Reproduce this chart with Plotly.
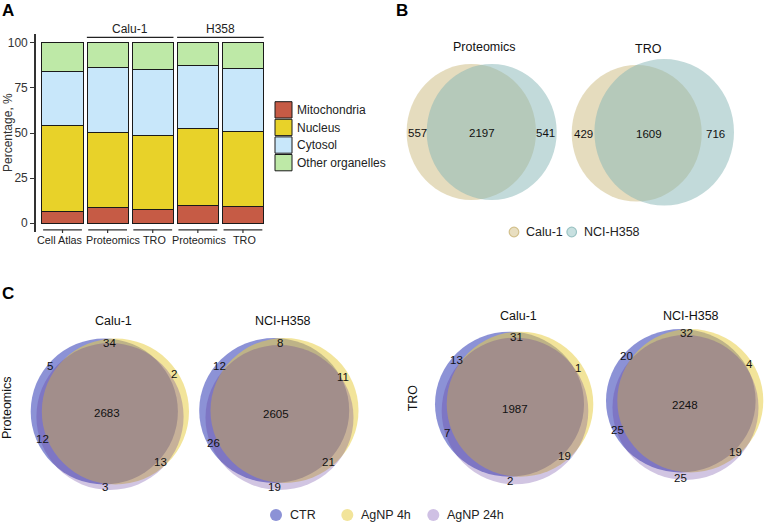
import plotly.graph_objects as go

W, H = 765, 525
FONT = "Liberation Sans, Arial, sans-serif"


def px(x):
    return x / W


def py(y):
    return 1 - y / H


# ---------------- DATA ----------------
# Panel A: stacked percentages (segment heights, %)
columns = ["Cell Atlas", "Calu-1 Proteomics", "Calu-1 TRO", "H358 Proteomics", "H358 TRO"]
column_labels = ["Cell Atlas", "Proteomics", "TRO", "Proteomics", "TRO"]
mitochondria = [6.8, 8.5, 7.9, 9.8, 9.2]
nucleus = [47.2, 41.9, 40.6, 42.8, 41.5]
cytosol = [29.8, 36.1, 36.9, 34.7, 35.3]
other_organelles = [16.2, 13.5, 14.6, 12.7, 14.0]
compartments = ["Mitochondria", "Nucleus", "Cytosol", "Other organelles"]
group_names = ["Calu-1", "H358"]
group_members = [[1, 2], [3, 4]]

# Panel B: two-set Venn counts [Calu-1 only, both, NCI-H358 only]
venn2_titles = ["Proteomics", "TRO"]
venn2_sets = ["Calu-1", "NCI-H358"]
venn2_proteomics = [557, 2197, 541]
venn2_tro = [429, 1609, 716]

# Panel C: three-set Venn counts
# order: [CTR only, 4h only, 24h only, CTR&4h, CTR&24h, 4h&24h, all]
venn3_sets = ["CTR", "AgNP 4h", "AgNP 24h"]
venn3_cells = ["Calu-1", "NCI-H358"]
venn3_methods = ["Proteomics", "TRO"]
venn3_prot_calu1 = [5, 2, 3, 34, 12, 13, 2683]
venn3_prot_h358 = [12, 11, 19, 8, 26, 21, 2605]
venn3_tro_calu1 = [13, 1, 2, 31, 7, 19, 1987]
venn3_tro_h358 = [20, 4, 25, 32, 25, 19, 2248]

# ---------------- STYLE / LAYOUT ----------------
bar_colors = ["#C65B45", "#E8D229", "#C8E7FA", "#BEE9A7"]
venn2_fill = ["rgba(203,185,125,0.5)", "rgba(133,181,181,0.5)"]
venn2_key = [("#E8DEC0", "#D2C08C"), ("#C8E0E0", "#9CC4C4")]
venn3_fill = ["rgba(25,37,173,0.5)", "rgba(231,206,71,0.55)", "rgba(90,45,150,0.28)"]
venn3_key = ["#8C92D6", "#F2E49A", "#CFC0E4"]

# x-label centres (px) for panel A column labels
xlabel_px = [60, 113, 154.5, 199.7, 245]

# Venn geometry (pixel space): (cx, cy, rx, ry)
venn2_geom = [
    [(471.3, 132.0, 64.7, 68.0), (491.7, 132.0, 65.0, 68.0)],
    [(636.7, 133.3, 65.0, 68.3), (664.2, 132.3, 69.8, 73.3)],
]
venn2_label_pos = [
    [(417.7, 133), (482, 133), (545, 133)],
    [(583.3, 134), (648.7, 134), (715, 134)],
]
venn2_title_pos = [(484, 47), (648, 49)]

venn3_geom = [
    [(104.3, 411.5, 73.6, 73.0), (115.4, 411.5, 73.6, 73.0), (110.0, 416.5, 73.6, 73.5)],
    [(274.2, 410.5, 75.0, 72.5), (284.5, 410.5, 74.0, 72.5), (279.5, 417.5, 74.0, 72.5)],
    [(509.5, 404.2, 74.5, 72.5), (520.0, 404.2, 73.3, 72.5), (515.0, 411.0, 73.3, 73.3)],
    [(680.8, 400.7, 74.8, 71.7), (690.3, 400.7, 73.0, 71.7), (685.5, 407.5, 73.0, 72.5)],
]
venn3_label_pos = [
    [(50, 366), (174, 374.3), (105, 487.3), (110, 342.7), (42.3, 439.3), (160, 461.7), (106.7, 412.7)],
    [(220, 366), (342.7, 376.7), (274.3, 487.3), (280, 342.7), (213.3, 443.3), (328.3, 461.7), (276, 414)],
    [(456, 360), (578.3, 368.3), (510, 481), (516, 337.3), (446.7, 433.3), (564, 456), (515, 409.3)],
    [(626, 356), (749.3, 364), (680, 477.7), (686.7, 332.7), (617.3, 430), (735.7, 451.7), (685, 405)],
]
venn3_title_pos = [(113, 320.7), (282.7, 320.7), (518.3, 315.7), (690.7, 315.7)]
venn3_row_pos = [(7, 408), (413.3, 398)]

shapes = []
annotations = []


def text(x, y, s, size=12, color="#111", xanchor="center", yanchor="middle", **kw):
    annotations.append(dict(x=px(x), y=py(y), xref="paper", yref="paper", text=s,
                            xanchor=xanchor, yanchor=yanchor,
                            showarrow=False, font=dict(family=FONT, size=size, color=color), **kw))


def ellipse(cx, cy, rx, ry, fill, line="rgba(0,0,0,0)", lw=0):
    shapes.append(dict(type="circle", xref="paper", yref="paper",
                       x0=px(cx - rx), x1=px(cx + rx), y0=py(cy + ry), y1=py(cy - ry),
                       fillcolor=fill, line=dict(color=line, width=lw), layer="above"))


fig = go.Figure()

# ---------------- PANEL A ----------------
for name, vals, col in zip(compartments, [mitochondria, nucleus, cytosol, other_organelles], bar_colors):
    fig.add_trace(go.Bar(x=columns, y=vals, name=name, marker=dict(color=col, line=dict(color="#1a1a1a", width=1)),
                         showlegend=False, hoverinfo="x+y+name"))

fig.update_layout(
    barmode="stack", bargap=0.09,
    xaxis=dict(domain=[px(35.9), px(265.5)], range=[-0.59, 4.5], type="category",
               tickvals=columns, ticktext=column_labels, showticklabels=False, ticks="",
               showline=False, showgrid=False, fixedrange=True),
    yaxis=dict(domain=[py(232.3), py(33.7)], range=[-5, 105], tickvals=[0, 25, 50, 75, 100],
               ticks="outside", ticklen=4, tickcolor="#333", tickwidth=1.2, showline=True, linecolor="#333",
               linewidth=1.5, showgrid=False, zeroline=False, fixedrange=True,
               tickfont=dict(family=FONT, size=12, color="#333")),
)

# facet axis lines under each bar + column labels
for i, (lab, lx) in enumerate(zip(column_labels, xlabel_px)):
    shapes.append(dict(type="line", xref="x", yref="paper", x0=i - 0.43, x1=i + 0.43, y0=py(229.8), y1=py(229.8),
                       line=dict(color="#333", width=1.2)))
    shapes.append(dict(type="line", xref="x", yref="paper", x0=i, x1=i, y0=py(229.8), y1=py(233),
                       line=dict(color="#333", width=1.2)))
    text(lx, 240, lab, size=10.8, color="#222")

# group headers
for g, members in zip(group_names, group_members):
    shapes.append(dict(type="line", xref="x", yref="paper", x0=members[0] - 0.46, x1=members[-1] + 0.46,
                       y0=py(37.3), y1=py(37.3), line=dict(color="#222", width=1.2)))
    annotations.append(dict(x=(members[0] + members[-1]) / 2, y=py(29), xref="x", yref="paper", text=g,
                            xanchor="center", yanchor="middle",
                            showarrow=False, font=dict(family=FONT, size=12, color="#222")))

text(8, 133, "Percentage, %", size=12, color="#333", textangle=-90)

# legend A
for k, (name, col) in enumerate(zip(compartments, bar_colors)):
    y0 = 101.7 + k * 17.6
    shapes.append(dict(type="rect", xref="paper", yref="paper", x0=px(275), x1=px(292), y0=py(y0 + 16.3), y1=py(y0),
                       fillcolor=col, line=dict(color="#1a1a1a", width=1)))
    text(295, y0 + 8.2, name, size=12, color="#222", xanchor="left")

# ---------------- PANEL B ----------------
for t, counts, geom, lpos, tpos in zip(venn2_titles, [venn2_proteomics, venn2_tro], venn2_geom,
                                       venn2_label_pos, venn2_title_pos):
    for (cx, cy, rx, ry), fill in zip(geom, venn2_fill):
        ellipse(cx, cy, rx, ry, fill)
    for c, (x, y) in zip(counts, lpos):
        text(x, y, str(c), size=11.5)
    text(tpos[0], tpos[1], t, size=12.5)

for (xk, xt), s, (fc, lc) in zip([(514, 524), (571.7, 581.7)], venn2_sets, venn2_key):
    ellipse(xk, 232, 4.8, 4.8, fc, lc, 1.2)
    text(xt, 232, s, size=12.5, color="#222", xanchor="left")

# ---------------- PANEL C ----------------
venn3_data = [venn3_prot_calu1, venn3_prot_h358, venn3_tro_calu1, venn3_tro_h358]
venn3_titles = [venn3_cells[0], venn3_cells[1], venn3_cells[0], venn3_cells[1]]
for counts, geom, lpos, tpos, t in zip(venn3_data, venn3_geom, venn3_label_pos, venn3_title_pos, venn3_titles):
    for (cx, cy, rx, ry), fill in zip(geom, venn3_fill):
        ellipse(cx, cy, rx, ry, fill)
    for c, (x, y) in zip(counts, lpos):
        text(x, y, str(c), size=11.5)
    text(tpos[0], tpos[1], t, size=12.5)

for m, (x, y) in zip(venn3_methods, venn3_row_pos):
    text(x, y, m, size=12.5, textangle=-90)

for (xk, xt), s, fc in zip([(276, 288.3), (347.3, 359.3), (433.3, 445)], venn3_sets, venn3_key):
    ellipse(xk, 515, 6.0, 6.0, fc)
    text(xt, 515, s, size=12.5, color="#222", xanchor="left")

# panel letters
text(8, 10, "<b>A</b>", size=17, color="#000")
text(402, 11, "<b>B</b>", size=17, color="#000")
text(8, 293, "<b>C</b>", size=17, color="#000")

fig.update_layout(
    width=W, height=H, margin=dict(l=0, r=0, t=0, b=0),
    paper_bgcolor="white", plot_bgcolor="white",
    shapes=shapes, annotations=annotations, showlegend=False,
    font=dict(family=FONT),
)

fig.write_html("out.html", config={"displayModeBar": False},
               post_script="document.body.style.margin='0px';document.body.style.overflow='hidden';")
